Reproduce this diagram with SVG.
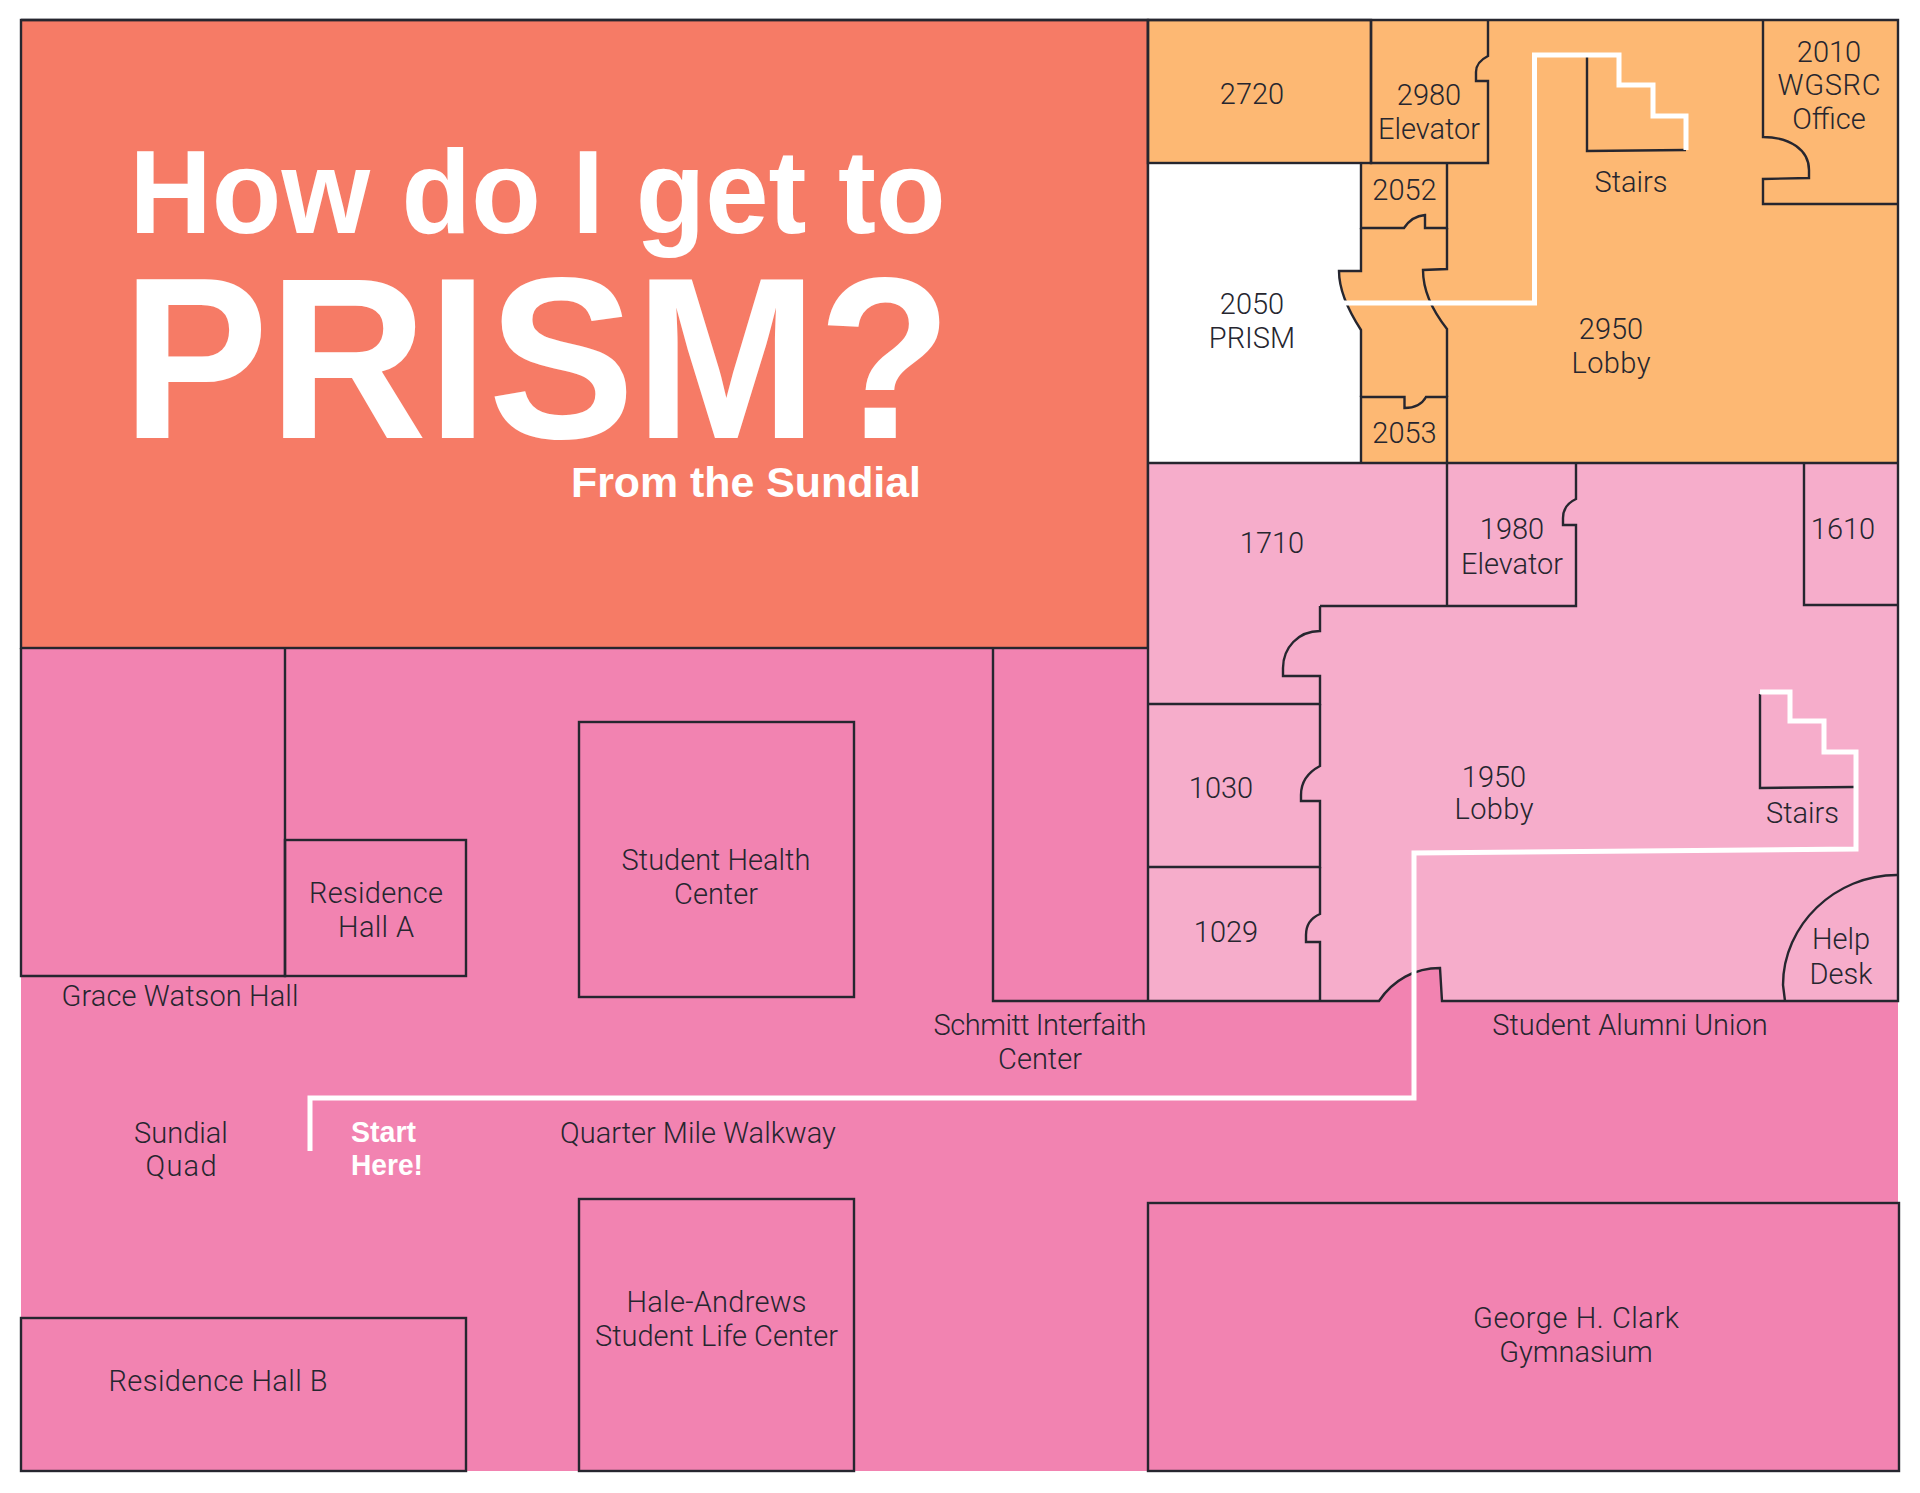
<svg xmlns="http://www.w3.org/2000/svg" width="1920" height="1493" viewBox="0 0 1920 1493">
<style>
.wall{fill:none;stroke:#26262f;stroke-width:2.4;stroke-linejoin:miter}
.route{fill:none;stroke:#fff;stroke-width:5;stroke-linejoin:miter}
text{font-family:"Roboto","Liberation Sans",Arial,sans-serif;font-weight:300;font-size:29px;fill:#26262f;text-anchor:middle;transform:translateY(1px)}
text.b{font-family:"Liberation Sans",Arial,sans-serif;font-weight:700;fill:#fff;text-anchor:start;transform:none}
</style>
<rect width="1920" height="1493" fill="#fff"/>
<g id="campus-ground">
<rect x="21" y="648" width="1877" height="823" fill="#F283B1"/>
</g>
<g id="title">
<rect x="21" y="20" width="1127" height="628" class="wall" style="fill:#F67B66"/>
<text class="b" x="129.6" y="233" style="font-size:119px" textLength="816" lengthAdjust="spacingAndGlyphs">How do I get to</text>
<text class="b" x="122" y="438" style="font-size:230px" textLength="830" lengthAdjust="spacingAndGlyphs">PRISM?</text>
<text class="b" x="571" y="497" style="font-size:43px" textLength="350" lengthAdjust="spacingAndGlyphs">From the Sundial</text>
</g>
<g id="floor-2">
<rect x="1148" y="20" width="750" height="443" fill="#FDB873"/>
</g>
<g id="floor-1">
<path d="M1148 463H1898V1001H1442L1440 968C1415 968 1393 980 1379 1001H1148Z" fill="#F6ADCB"/>
</g>
<g id="room-2050">
<path d="M1148 163H1361V271H1339C1339 290 1348 310 1361 330V463H1148Z" fill="#fff"/>
<text x="1252" y="313">2050</text><text x="1252" y="347">PRISM</text>
</g>
<g id="room-2720">
<rect x="1148" y="20" width="223" height="143" class="wall"/>
<text x="1252" y="103">2720</text>
</g>
<g id="room-2980">
<path d="M1371 20V163H1488V81H1476V72Q1476 62 1488 56V20" class="wall"/>
<text x="1429" y="104">2980</text><text x="1429" y="138">Elevator</text>
</g>
<g id="room-2052">
<path d="M1361 163V228H1404Q1412 216 1425 215V228H1447V163" class="wall"/>
<text x="1404.5" y="199">2052</text>
</g>
<g id="room-2053">
<path d="M1361 463V397H1404.5V408Q1420 408 1426 397H1447V463" class="wall"/>
<text x="1404.5" y="442">2053</text>
</g>
<g id="corridor-2">
<path d="M1361 228V271H1339C1339 290 1348 310 1361 330V397" class="wall"/>
<path d="M1447 228V269L1423 270C1423 290 1432 310 1447 329V397" class="wall"/>
</g>
<g id="room-2010">
<path d="M1763 20V137C1790 137 1809 150 1809 170V178L1763 179V204H1898" class="wall"/>
<text x="1829" y="61">2010</text><text x="1829" y="94" textLength="103">WGSRC</text><text x="1829" y="128">Office</text>
</g>
<g id="room-2950">
<path d="M1587 57V151L1686 150" class="wall"/>
<text x="1631" y="191">Stairs</text>
<text x="1611" y="338">2950</text><text x="1611" y="372" textLength="79">Lobby</text>
</g>
<g id="outline">
<path d="M21 20H1898V1001H1442L1440 968C1415 968 1393 980 1379 1001H993V649" class="wall"/>
<path d="M1148 20V1001M1148 463H1898" class="wall"/>
</g>
<g id="room-1710">
<path d="M1320 606V631C1298 631 1283 648 1283 668V676H1320V704H1148" class="wall"/>
<text x="1272" y="552">1710</text>
</g>
<g id="room-1980">
<path d="M1447 463V606M1320 606H1576V525H1563V518Q1563 505 1576 499V463" class="wall"/>
<text x="1512" y="538">1980</text><text x="1512" y="573">Elevator</text>
</g>
<g id="room-1610">
<path d="M1804 463V605H1897" class="wall"/>
<text x="1843" y="538">1610</text>
</g>
<g id="room-1030">
<path d="M1320 704V766Q1301 776 1301 795V801H1320V867H1148" class="wall"/>
<text x="1221" y="797">1030</text>
</g>
<g id="room-1029">
<path d="M1320 867V914Q1306 920 1306 935V942H1320V1001" class="wall"/>
<text x="1226" y="941">1029</text>
</g>
<g id="room-1950">
<path d="M1760 694V788L1854 787" class="wall"/>
<text x="1494" y="786">1950</text><text x="1494" y="818" textLength="79">Lobby</text>
<text x="1802.5" y="822">Stairs</text>
</g>
<g id="help-desk">
<path d="M1897 875C1835 875 1783 925 1783 985L1785 1001" class="wall"/>
<text x="1841" y="948" textLength="58">Help</text><text x="1841" y="983" textLength="63">Desk</text>
</g>
<g id="grace-watson-hall">
<path d="M285 648V976H21V648" class="wall"/>
<text x="180" y="1005" textLength="237">Grace Watson Hall</text>
</g>
<g id="residence-hall-a">
<rect x="285" y="840" width="181" height="136" class="wall"/>
<text x="376" y="902" textLength="134">Residence</text><text x="376" y="936" textLength="76">Hall A</text>
</g>
<g id="student-health-center">
<rect x="579" y="722" width="275" height="275" class="wall"/>
<text x="716" y="869">Student Health</text><text x="716" y="903">Center</text>
</g>
<g id="schmitt-interfaith-center">
<text x="1040" y="1034" textLength="213">Schmitt Interfaith</text><text x="1040" y="1068">Center</text>
</g>
<g id="student-alumni-union">
<text x="1630" y="1034">Student Alumni Union</text>
</g>
<g id="sundial-quad">
<text x="181" y="1142">Sundial</text><text x="181" y="1175" textLength="71">Quad</text>
</g>
<g id="start-here">
<text class="b" x="351" y="1142" style="font-size:29px" textLength="65" lengthAdjust="spacingAndGlyphs">Start</text>
<text class="b" x="351" y="1175" style="font-size:29px" textLength="72" lengthAdjust="spacingAndGlyphs">Here!</text>
</g>
<g id="quarter-mile-walkway">
<text x="698" y="1142">Quarter Mile Walkway</text>
</g>
<g id="hale-andrews">
<rect x="579" y="1199" width="275" height="272" class="wall"/>
<text x="716.5" y="1311" textLength="180">Hale-Andrews</text><text x="716.5" y="1345">Student Life Center</text>
</g>
<g id="residence-hall-b">
<rect x="21" y="1318" width="445" height="153" class="wall"/>
<text x="218" y="1390" textLength="219">Residence Hall B</text>
</g>
<g id="clark-gymnasium">
<rect x="1148" y="1203" width="751" height="268" class="wall"/>
<text x="1576" y="1327" textLength="206">George H. Clark</text><text x="1576" y="1361">Gymnasium</text>
</g>
<g id="connectors">
<path id="route-floor-1" d="M310 1151V1098H1414V853L1856 849V752H1824V721H1790V692H1760" class="route"/>
<path id="route-floor-2" d="M1344 303H1534.5V55H1619V85H1653V116H1686V150" class="route"/>
</g>
</svg>
